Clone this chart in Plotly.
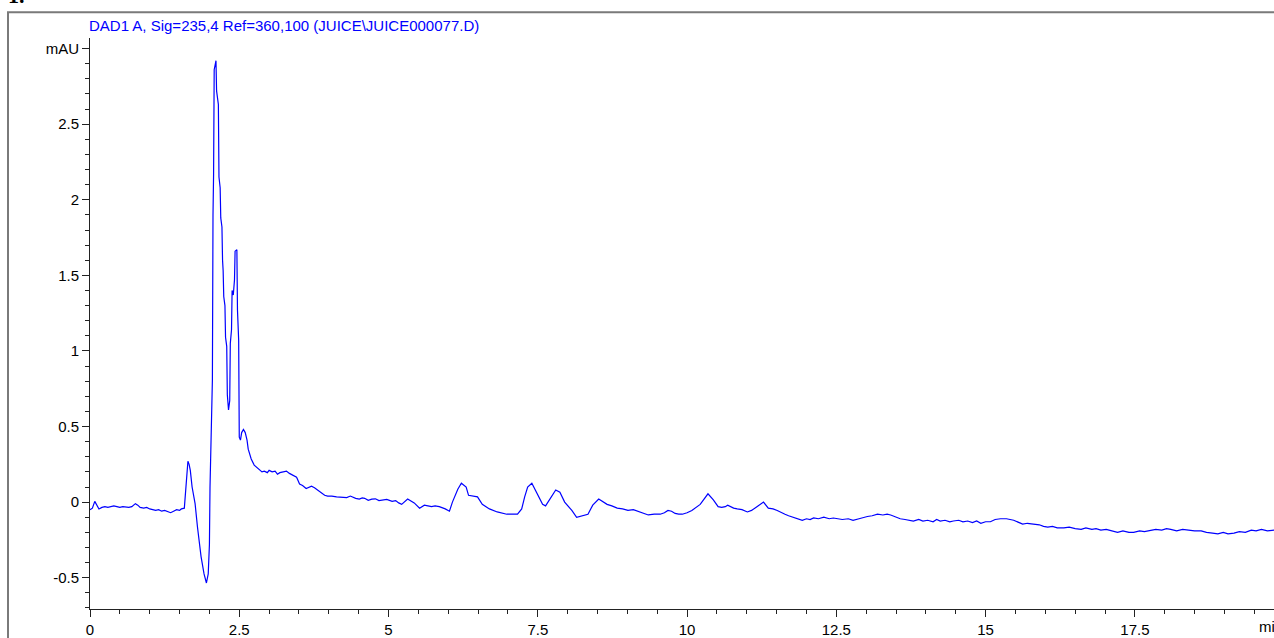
import plotly.graph_objects as go

# Retention time (min) and detector signal (mAU), row by row
time_min = [
    0.00, 0.04, 0.08, 0.12, 0.15, 0.20, 0.25, 0.30, 0.35, 0.40,
    0.45, 0.50, 0.55, 0.60, 0.65, 0.70, 0.76, 0.80, 0.84, 0.90,
    0.95, 1.00, 1.05, 1.10, 1.15, 1.20, 1.25, 1.30, 1.35, 1.40,
    1.45, 1.50, 1.53, 1.58, 1.61, 1.64, 1.66, 1.68, 1.71, 1.76,
    1.80, 1.83, 1.86, 1.91, 1.95, 1.98, 2.00, 2.01, 2.03, 2.05,
    2.06, 2.07, 2.08, 2.11, 2.12, 2.15, 2.16, 2.18, 2.19, 2.21,
    2.22, 2.23, 2.24, 2.26, 2.27, 2.29, 2.30, 2.32, 2.34, 2.35,
    2.37, 2.38, 2.40, 2.42, 2.43, 2.46, 2.47, 2.49, 2.50, 2.52,
    2.54, 2.57, 2.60, 2.63, 2.65, 2.70, 2.75, 2.84, 2.88, 2.92,
    2.97, 3.00, 3.05, 3.10, 3.14, 3.18, 3.22, 3.29, 3.34, 3.39,
    3.46, 3.51, 3.56, 3.62, 3.67, 3.71, 3.76, 3.81, 3.87, 3.93,
    3.98, 4.05, 4.13, 4.18, 4.24, 4.30, 4.36, 4.41, 4.45, 4.51,
    4.56, 4.60, 4.66, 4.72, 4.78, 4.84, 4.90, 4.97, 5.06, 5.12,
    5.17, 5.22, 5.32, 5.43, 5.52, 5.60, 5.66, 5.72, 5.78, 5.85,
    5.95, 6.02, 6.07, 6.16, 6.22, 6.30, 6.34, 6.49, 6.57, 6.69,
    6.82, 6.98, 7.16, 7.23, 7.28, 7.33, 7.40, 7.48, 7.58, 7.63,
    7.70, 7.80, 7.87, 7.95, 8.07, 8.15, 8.34, 8.42, 8.52, 8.66,
    8.74, 8.83, 8.92, 9.01, 9.10, 9.21, 9.28, 9.35, 9.45, 9.55,
    9.62, 9.68, 9.74, 9.80, 9.86, 9.92, 10.00, 10.08, 10.22, 10.35,
    10.44, 10.52, 10.58, 10.64, 10.68, 10.72, 10.78, 10.84, 10.92, 11.01,
    11.08, 11.17, 11.28, 11.36, 11.44, 11.51, 11.58, 11.64, 11.70, 11.78,
    11.86, 11.93, 12.00, 12.06, 12.12, 12.20, 12.29, 12.38, 12.45, 12.52,
    12.60, 12.70, 12.78, 12.88, 12.95, 13.02, 13.10, 13.19, 13.28, 13.35,
    13.41, 13.50, 13.57, 13.65, 13.72, 13.79, 13.88, 13.95, 14.03, 14.12,
    14.18, 14.24, 14.32, 14.40, 14.46, 14.55, 14.62, 14.70, 14.78, 14.85,
    14.92, 15.00, 15.08, 15.16, 15.25, 15.35, 15.47, 15.55, 15.62, 15.70,
    15.80, 15.90, 15.97, 16.04, 16.12, 16.20, 16.31, 16.40, 16.50, 16.60,
    16.68, 16.78, 16.85, 16.93, 17.02, 17.10, 17.21, 17.30, 17.40, 17.48,
    17.58, 17.66, 17.77, 17.85, 17.95, 18.03, 18.10, 18.20, 18.30, 18.39,
    18.50, 18.61, 18.70, 18.80, 18.89, 18.98, 19.06, 19.16, 19.25, 19.35,
    19.45, 19.53, 19.62, 19.72, 19.85,
]

signal_mau = [
    -0.050, -0.040, 0.005, -0.020, -0.045, -0.035, -0.030, -0.035, -0.030, -0.025,
    -0.030, -0.035, -0.030, -0.035, -0.035, -0.030, -0.010, -0.020, -0.035, -0.040,
    -0.035, -0.045, -0.050, -0.055, -0.050, -0.060, -0.055, -0.065, -0.070, -0.060,
    -0.050, -0.055, -0.045, -0.040, 0.150, 0.270, 0.250, 0.210, 0.100, -0.010,
    -0.165, -0.280, -0.360, -0.475, -0.535, -0.475, -0.280, 0.100, 0.430, 0.810,
    1.900, 2.170, 2.860, 2.920, 2.720, 2.630, 2.150, 2.080, 1.880, 1.820,
    1.600, 1.530, 1.360, 1.300, 1.090, 1.030, 0.710, 0.610, 0.670, 1.050,
    1.140, 1.400, 1.370, 1.470, 1.660, 1.670, 1.270, 1.070, 0.430, 0.410,
    0.460, 0.480, 0.460, 0.410, 0.350, 0.285, 0.245, 0.210, 0.200, 0.205,
    0.195, 0.210, 0.200, 0.205, 0.185, 0.195, 0.200, 0.205, 0.190, 0.180,
    0.165, 0.120, 0.110, 0.090, 0.100, 0.105, 0.095, 0.080, 0.060, 0.045,
    0.040, 0.040, 0.035, 0.035, 0.030, 0.030, 0.040, 0.030, 0.025, 0.020,
    0.028, 0.025, 0.012, 0.020, 0.022, 0.010, 0.015, 0.018, 0.005, 0.010,
    -0.005, -0.015, 0.020, -0.005, -0.040, -0.020, -0.025, -0.030, -0.025, -0.030,
    -0.045, -0.060, 0.000, 0.085, 0.125, 0.100, 0.045, 0.035, -0.015, -0.045,
    -0.065, -0.080, -0.080, -0.045, 0.035, 0.100, 0.125, 0.065, -0.015, -0.025,
    0.015, 0.080, 0.065, 0.000, -0.055, -0.100, -0.080, -0.020, 0.020, -0.015,
    -0.025, -0.040, -0.045, -0.055, -0.050, -0.065, -0.075, -0.085, -0.080, -0.080,
    -0.070, -0.055, -0.060, -0.075, -0.080, -0.080, -0.070, -0.055, -0.015, 0.055,
    0.015, -0.030, -0.035, -0.030, -0.020, -0.030, -0.040, -0.045, -0.050, -0.065,
    -0.055, -0.030, 0.000, -0.040, -0.045, -0.055, -0.070, -0.080, -0.090, -0.100,
    -0.110, -0.120, -0.110, -0.115, -0.105, -0.110, -0.100, -0.110, -0.105, -0.110,
    -0.115, -0.110, -0.120, -0.110, -0.100, -0.095, -0.090, -0.080, -0.085, -0.080,
    -0.085, -0.100, -0.110, -0.115, -0.120, -0.125, -0.115, -0.125, -0.120, -0.130,
    -0.115, -0.125, -0.120, -0.130, -0.125, -0.120, -0.130, -0.125, -0.135, -0.125,
    -0.140, -0.130, -0.130, -0.115, -0.110, -0.110, -0.120, -0.135, -0.145, -0.140,
    -0.145, -0.150, -0.160, -0.165, -0.160, -0.170, -0.170, -0.165, -0.175, -0.180,
    -0.170, -0.180, -0.175, -0.185, -0.180, -0.190, -0.200, -0.190, -0.200, -0.200,
    -0.190, -0.195, -0.185, -0.180, -0.185, -0.175, -0.180, -0.190, -0.180, -0.185,
    -0.190, -0.190, -0.200, -0.205, -0.210, -0.200, -0.210, -0.205, -0.195, -0.200,
    -0.185, -0.190, -0.180, -0.190, -0.185,
]

x_tick_vals = [0, 2.5, 5, 7.5, 10, 12.5, 15, 17.5]
x_tick_text = ["0", "2.5", "5", "7.5", "10", "12.5", "15", "17.5"]
y_tick_vals = [-0.5, 0, 0.5, 1, 1.5, 2, 2.5, 3]
y_tick_text = ["-0.5", "0", "0.5", "1", "1.5", "2", "2.5", "mAU"]

signal_title = "DAD1 A, Sig=235,4 Ref=360,100 (JUICE\\JUICE000077.D)"

W, H = 1274, 638
L, R, T, B = 90, 0, 38, 26
plot_w, plot_h = W - L - R, H - T - B


def px_x(px):
    return (px - L) / plot_w


def px_y(py):
    return (H - B - py) / plot_h


fig = go.Figure()
fig.add_trace(go.Scatter(
    x=time_min, y=signal_mau, mode="lines",
    line=dict(color="#0000ff", width=1.2),
    hoverinfo="x+y", showlegend=False,
))

axis_font = dict(family="Liberation Sans, Arial, sans-serif", size=15, color="#000000")

fig.update_xaxes(
    range=[0, 19.83], showgrid=False, zeroline=False,
    showline=True, linecolor="#222222", linewidth=1,
    ticks="outside", ticklen=7, tickwidth=1, tickcolor="#222222",
    tickvals=x_tick_vals, ticktext=x_tick_text, tickfont=axis_font,
    minor=dict(ticks="outside", ticklen=4, tickwidth=1, tickcolor="#222222",
               dtick=0.5, tick0=0),
)
fig.update_yaxes(
    range=[-0.707, 3.07], showgrid=False, zeroline=False,
    showline=True, linecolor="#222222", linewidth=1,
    ticks="outside", ticklen=7, tickwidth=1, tickcolor="#222222",
    tickvals=y_tick_vals, ticktext=y_tick_text, tickfont=axis_font,
    minor=dict(ticks="outside", ticklen=4, tickwidth=1, tickcolor="#222222",
               dtick=0.1, tick0=0),
)

fig.update_layout(
    width=W, height=H,
    margin=dict(l=L, r=R, t=T, b=B, pad=0),
    paper_bgcolor="#ffffff", plot_bgcolor="#ffffff",
    shapes=[dict(
        type="rect", xref="paper", yref="paper",
        x0=px_x(8), x1=px_x(W + 10), y0=px_y(H + 10), y1=px_y(12),
        line=dict(color="#7a7a7a", width=2), fillcolor="rgba(0,0,0,0)", layer="below",
    )],
    annotations=[
        dict(text=signal_title, xref="paper", yref="paper",
             x=px_x(87), y=px_y(25), xanchor="left", yanchor="middle",
             showarrow=False,
             font=dict(family="Liberation Sans, Arial, sans-serif", size=15, color="#0000ff")),
        dict(text="min", xref="paper", yref="paper",
             x=px_x(1257), y=px_y(630), xanchor="left", yanchor="middle",
             showarrow=False, font=axis_font),
        dict(text="<b>1.</b>", xref="paper", yref="paper",
             x=px_x(6), y=px_y(10), xanchor="left", yanchor="bottom",
             showarrow=False,
             font=dict(family="Liberation Serif, Times New Roman, serif", size=22, color="#000000")),
    ],
)

fig.write_html("out.html")
